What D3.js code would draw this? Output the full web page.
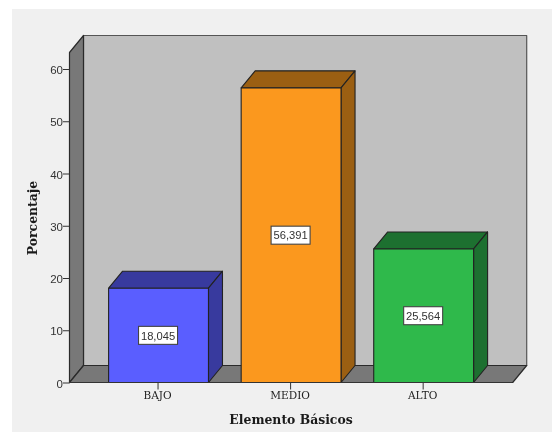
<!DOCTYPE html>
<html><head><meta charset="utf-8">
<script src="https://cdn.jsdelivr.net/npm/d3@7/dist/d3.min.js"></script>
<style>html,body{margin:0;padding:0;background:#fff}svg{display:block;filter:blur(0.4px)}</style>
</head><body><svg id="c" width="552" height="432"></svg>
<script>
const categories = ["BAJO","MEDIO","ALTO"];
const percentages = [18.045,56.391,25.564];
const valueLabels = ["18,045","56,391","25,564"];
const yTicks = [0,10,20,30,40,50,60];
const frontColors = ["#5a5eff","#fb981e","#2fb94b"];
const sideColors = ["#383a9e","#9b5f12","#1d7030"];
const xTitle = "Elemento Básicos";
const yTitle = "Porcentaje";

const svg = d3.select("#c");
svg.append("rect").attr("x",12).attr("y",9).attr("width",540).attr("height",423).attr("fill","#f0f0f0");
const L=69.5,R=512.7,dx=14,dy=-17;
const y = d3.scaleLinear().domain([0,60]).range([382.5,69]);
const x = d3.scaleBand().domain(categories).range([L,R]).paddingInner(.2466).paddingOuter(.295);
const Y0=y(0), Ytop=35.5-dy;
const poly=(pts,fill,stroke,w)=>svg.append("polygon").attr("points",pts.map(p=>p.join(",")).join(" ")).attr("fill",fill).attr("stroke",stroke).attr("stroke-width",w).attr("stroke-linejoin","round");
// walls
poly([[L+dx,Ytop+dy],[R+dx,Ytop+dy],[R+dx,Y0+dy],[L+dx,Y0+dy]],"#c0c0c0","#555",1.2);
poly([[L,Ytop],[L+dx,Ytop+dy],[L+dx,Y0+dy],[L,Y0]],"#787878","#2a2a2a",1.2);
poly([[L,Y0],[R,Y0],[R+dx,Y0+dy],[L+dx,Y0+dy]],"#787878","#2a2a2a",1.2);
// bars
categories.forEach((c,i)=>{
  const a=x(c),b=a+x.bandwidth(),t=y(percentages[i]);
  poly([[a,t],[a+dx,t+dy],[b+dx,t+dy],[b,t]],sideColors[i],"#222",1.1);
  poly([[b,t],[b+dx,t+dy],[b+dx,Y0+dy],[b,Y0]],sideColors[i],"#222",1.1);
  poly([[a,t],[b,t],[b,Y0],[a,Y0]],frontColors[i],"#222",1.1);
});
// axes
const ay = d3.axisLeft(y).tickValues(yTicks).tickSize(6.5).tickPadding(0);
const gy = svg.append("g").attr("transform",`translate(${L},0)`).call(ay);
gy.select(".domain").remove();
gy.selectAll("line").attr("stroke","#333");
gy.selectAll("text").attr("y",1).attr("font-family","Liberation Sans").attr("font-size",11.5).attr("fill","#333");
const ax = d3.axisBottom(x).tickSize(7).tickPadding(2);
const gx = svg.append("g").attr("transform",`translate(-0.5,${Y0})`).call(ax);
gx.select(".domain").attr("stroke","#333").attr("d",`M${L},0H${R}`);
gx.selectAll("line").attr("stroke","#333");
gx.selectAll("text").attr("dx",-0.5).attr("font-family","DejaVu Serif").attr("font-size",10.5).attr("fill","#222");
// value labels
categories.forEach((c,i)=>{
  const cx=x(c)+x.bandwidth()/2-0.5, cy=y(percentages[i]/2);
  svg.append("rect").attr("x",cx-19.5).attr("y",cy-9).attr("width",39).attr("height",18).attr("fill","#fff").attr("stroke","#444").attr("stroke-width",1.1);
  svg.append("text").attr("x",cx).attr("y",cy+4.3).attr("text-anchor","middle").attr("font-family","Liberation Sans").attr("font-size",11.2).attr("fill","#333").text(valueLabels[i]);
});
svg.append("text").attr("x",291).attr("y",424).attr("text-anchor","middle").attr("font-family","DejaVu Serif").attr("font-weight","bold").attr("font-size",12.4).attr("fill","#1a1a1a").text(xTitle);
svg.append("text").attr("transform","translate(36.5,218) rotate(-90)").attr("text-anchor","middle").attr("font-family","DejaVu Serif").attr("font-weight","bold").attr("font-size",12.4).attr("fill","#1a1a1a").text(yTitle);
</script></body></html>
